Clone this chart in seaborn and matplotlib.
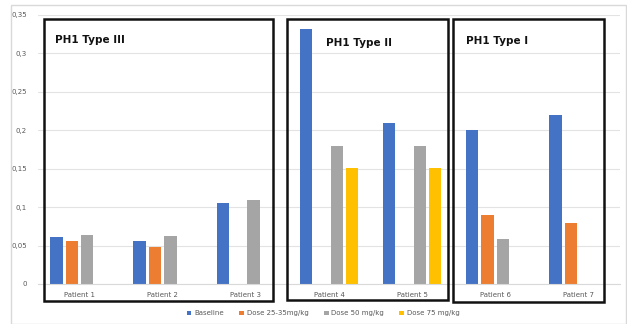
import matplotlib
matplotlib.use("Agg")
import matplotlib.pyplot as plt
import seaborn as sns
import pandas as pd
import numpy as np
from matplotlib.patches import Rectangle
from matplotlib.ticker import FuncFormatter

patients = ["Patient 1", "Patient 2", "Patient 3", "Patient 4", "Patient 5", "Patient 6", "Patient 7"]
series = ["Baseline", "Dose 25-35mg/kg", "Dose 50 mg/kg", "Dose 75 mg/kg"]
baseline = [0.061, 0.056, 0.106, 0.332, 0.210, 0.201, 0.220]
dose_25_35 = [0.056, 0.048, np.nan, np.nan, np.nan, 0.090, 0.079]
dose_50 = [0.064, 0.062, 0.109, 0.180, 0.180, 0.059, np.nan]
dose_75 = [np.nan, np.nan, np.nan, 0.151, 0.151, np.nan, np.nan]
colors = ["#4472C4", "#ED7D31", "#A5A5A5", "#FFC000"]
groups = ["PH1 Type III", "PH1 Type II", "PH1 Type I"]
yticks = [0, 0.05, 0.1, 0.15, 0.2, 0.25, 0.3, 0.35]

rows = []
for name, vals in zip(series, [baseline, dose_25_35, dose_50, dose_75]):
    for p, v in zip(patients, vals):
        rows.append({"Patient": p, "Series": name, "Value": v})
df = pd.DataFrame(rows)

sns.set_style("white")
W, H = 627, 324
fig = plt.figure(figsize=(W / 100, H / 100), dpi=100)
ax = fig.add_axes([38 / W, 1 - 284 / H, (620 - 38) / W, (284 - 15) / H])

sns.barplot(data=df, x="Patient", y="Value", hue="Series", hue_order=series,
            palette=colors, width=0.74, gap=0.2, ax=ax, saturation=1,
            linewidth=0, errorbar=None)

ax.set_ylim(0, 0.35)
ax.set_xlim(-0.5, 6.5)
ax.set_yticks(yticks)
ax.yaxis.set_major_formatter(FuncFormatter(lambda v, _: "0" if v == 0 else ("%g" % v).replace(".", ",")))
ax.grid(axis="y", color="#E3E3E3", linewidth=0.8)
ax.set_axisbelow(True)
for s in ["top", "right", "left"]:
    ax.spines[s].set_visible(False)
ax.spines["bottom"].set_color("#D9D9D9")
ax.tick_params(axis="both", length=0, labelsize=5, colors="#595959", pad=8)
ax.tick_params(axis="x", pad=6)
ax.set_xlabel("")
ax.set_ylabel("")

leg = ax.legend(loc="upper center", bbox_to_anchor=(0.49, -0.075), ncol=4, frameon=False,
                fontsize=5, handlelength=0.7, handleheight=0.7, handletextpad=0.4,
                columnspacing=2.2, labelcolor="#595959")

# outer chart frame
fig.patches.append(Rectangle((11 / W, 0), (626 - 11) / W, 1 - 5 / H, transform=fig.transFigure,
                             fill=False, edgecolor="#D9D9D9", linewidth=1))

boxes = [(44, 19, 273, 301), (287, 19, 448, 300), (453, 19, 604, 302)]
title_pos = [(55, 40), (326, 43), (466, 41)]
for (x0, y0, x1, y1), g, (tx, ty) in zip(boxes, groups, title_pos):
    fig.patches.append(Rectangle((x0 / W, 1 - y1 / H), (x1 - x0) / W, (y1 - y0) / H,
                                 transform=fig.transFigure, fill=False,
                                 edgecolor="#111111", linewidth=1.8))
    fig.text(tx / W, 1 - ty / H, g, fontsize=7.5, fontweight="bold", va="center", ha="left",
             color="#111111")

fig.savefig("out.png", dpi=100)
